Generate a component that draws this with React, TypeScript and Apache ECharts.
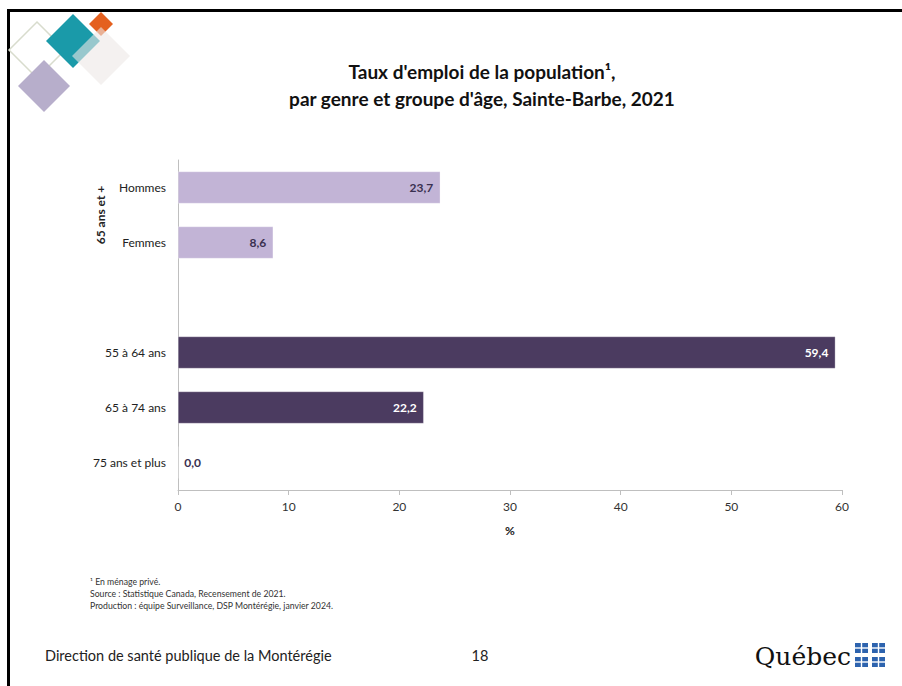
import React, { useEffect, useRef } from "react";
import * as echarts from "echarts";

const categories = ["Hommes", "Femmes", "", "55 à 64 ans", "65 à 74 ans", "75 ans et plus"];
const values: (number | null)[] = [23.7, 8.6, null, 59.4, 22.2, 0.0];
const groupKind = ["sex", "sex", "none", "age", "age", "age"];
const xTicks = [0, 10, 20, 30, 40, 50, 60];

const LIGHT = "#c2b4d6";
const DARK = "#4b3b60";
const FONT = "Lato, 'Open Sans', sans-serif";

const fmt = (v: number) => v.toFixed(1).replace(".", ",");

export default function App() {
  const ref = useRef<HTMLDivElement>(null);
  useEffect(() => {
    if (!ref.current) return;
    const chart = echarts.init(ref.current, undefined, { renderer: "svg" });
    const data = values.map((v, i) => {
      if (v === null) return { value: null };
      const light = groupKind[i] === "sex";
      return {
        value: v,
        itemStyle: { color: light ? LIGHT : DARK },
        label: {
          show: true,
          position: v === 0 ? "right" : "insideRight",
          distance: v === 0 ? 6 : 7,
          color: v === 0 ? "#3a3050" : light ? "#3a3050" : "#ffffff",
          fontWeight: "bold",
          fontSize: 12,
          fontFamily: FONT,
          formatter: (p: any) => fmt(p.value),
        },
      };
    });

    const diamond = (cx: number, cy: number, r: number) => [
      [cx, cy - r],
      [cx + r, cy],
      [cx, cy + r],
      [cx - r, cy],
    ];

    const flagSquares: any[] = [];
    const sq = [
      [855, 643],
      [872, 643],
      [855, 657],
      [872, 657],
    ];
    sq.forEach(([x, y]) => {
      flagSquares.push({ type: "rect", shape: { x, y, width: 13, height: 10 }, style: { fill: "#2d63ae" } });
      flagSquares.push({ type: "rect", shape: { x: x + 5.8, y, width: 1.4, height: 10 }, style: { fill: "#fff" } });
      flagSquares.push({ type: "rect", shape: { x, y: y + 4.3, width: 13, height: 1.4 }, style: { fill: "#fff" } });
    });

    chart.setOption({
      animation: false,
      backgroundColor: "#ffffff",
      title: {
        text: "Taux d'emploi de la population¹,\npar genre et groupe d'âge, Sainte-Barbe, 2021",
        left: 477,
        top: 53,
        textAlign: "center",
        textStyle: { fontFamily: FONT, fontWeight: "bold", fontSize: 19, lineHeight: 27, color: "#111" },
      },
      grid: { left: 178, right: 60, top: 160, bottom: 196 },
      xAxis: {
        type: "value",
        min: 0,
        max: 60,
        interval: 10,
        name: "%",
        nameLocation: "middle",
        nameGap: 34,
        nameTextStyle: { fontFamily: FONT, fontWeight: "bold", fontSize: 12, color: "#222" },
        axisLine: { show: true, lineStyle: { color: "#bfbfbf" } },
        axisTick: { show: true, length: 5, lineStyle: { color: "#bfbfbf" } },
        splitLine: { show: false },
        axisLabel: { fontFamily: FONT, fontSize: 12, color: "#333", margin: 10, formatter: (v: number) => (xTicks.includes(v) ? String(v) : "") },
      },
      yAxis: {
        type: "category",
        data: categories,
        inverse: true,
        axisLine: { show: true, lineStyle: { color: "#bfbfbf" } },
        axisTick: { show: false },
        axisLabel: { fontFamily: FONT, fontSize: 12, color: "#222", margin: 12 },
      },
      series: [
        {
          type: "bar",
          data,
          barWidth: 32,
          itemStyle: { borderColor: "rgba(255,255,255,0.6)", borderWidth: 0.5 },
        },
      ],
      graphic: [
        { type: "rect", shape: { x: 7, y: 9, width: 900, height: 3 }, style: { fill: "#000" } },
        { type: "rect", shape: { x: 7, y: 9, width: 3, height: 680 }, style: { fill: "#000" } },
        { type: "polygon", shape: { points: diamond(37, 50, 28) }, style: { fill: "none", stroke: "#d8dccd", lineWidth: 1.5 } },
        { type: "polygon", shape: { points: diamond(44, 86, 26) }, style: { fill: "#b7aecb" } },
        { type: "polygon", shape: { points: diamond(73, 41, 27) }, style: { fill: "#1a9aa9" } },
        { type: "polygon", shape: { points: diamond(101, 24, 12) }, style: { fill: "#e4601f" } },
        { type: "polygon", shape: { points: diamond(101, 56, 29) }, style: { fill: "rgba(236,232,230,0.6)" } },
        {
          type: "text",
          x: 100,
          y: 215,
          rotation: Math.PI / 2,
          style: { text: "65 ans et +", fontFamily: FONT, fontWeight: "bold", fontSize: 12, fill: "#222", align: "center", verticalAlign: "middle" },
        },
        {
          type: "text",
          x: 90,
          y: 575,
          style: {
            text: "¹ En ménage privé.\nSource : Statistique Canada, Recensement de 2021.\nProduction : équipe Surveillance, DSP Montérégie, janvier 2024.",
            fontFamily: FONT,
            fontSize: 8.7,
            lineHeight: 12,
            fill: "#333",
          },
        },
        {
          type: "text",
          x: 45,
          y: 655,
          style: { text: "Direction de santé publique de la Montérégie", fontFamily: FONT, fontSize: 14.5, fill: "#222", verticalAlign: "middle" },
        },
        {
          type: "text",
          x: 480,
          y: 655,
          style: { text: "18", fontFamily: FONT, fontSize: 14.5, fill: "#222", align: "center", verticalAlign: "middle" },
        },
        {
          type: "text",
          x: 851,
          y: 656,
          style: { text: "Québec", fontFamily: "'DejaVu Serif', 'Liberation Serif', serif", fontSize: 25, fill: "#111", align: "right", verticalAlign: "middle" },
        },
        ...flagSquares,
      ],
    });
    return () => chart.dispose();
  }, []);
  return <div ref={ref} style={{ position: "fixed", left: 0, top: 0, width: 902, height: 686 }} />;
}
